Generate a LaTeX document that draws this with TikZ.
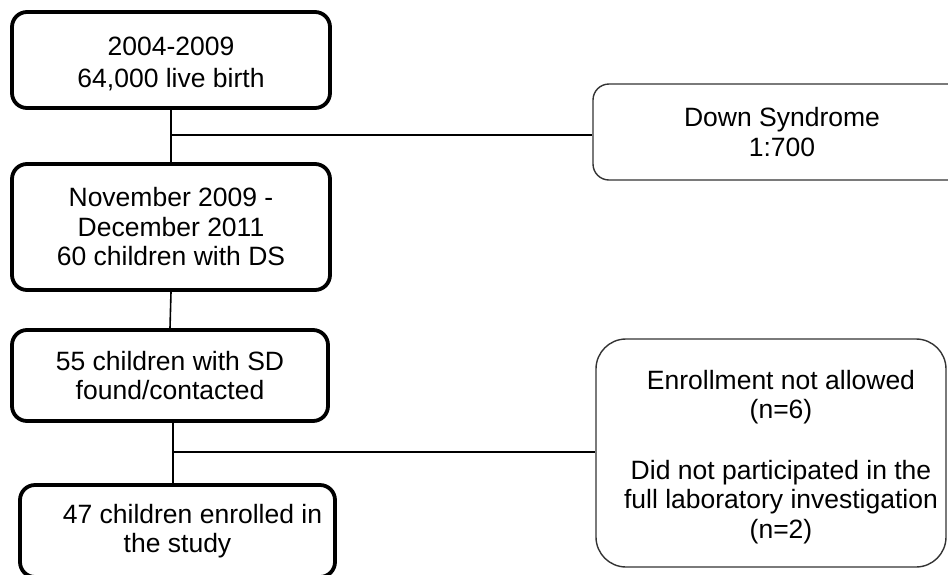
\documentclass[tikz,border=0pt]{standalone}
\usepackage{fontspec}
\setmainfont{Liberation Sans}
\begin{document}
\begin{tikzpicture}[x=1pt,y=-1pt,
  thickbox/.style={draw=black,line width=3.8pt,rounded corners=15pt,inner sep=0pt,align=center,font=\fontsize{26.5}{29.5}\selectfont},
  thinbox/.style={draw=black!80,line width=1.4pt,inner sep=0pt,align=center,font=\fontsize{26.5}{29.5}\selectfont},
  conn/.style={draw=black,line width=1.6pt}]
\useasboundingbox (0,0) rectangle (948,574);
\clip (0,0) rectangle (948,574);
\node[thickbox,minimum width=318pt,minimum height=96pt] (b1) at (171,60) {};
\node[inner sep=0pt,align=center,font=\fontsize{26.5}{29.5}\selectfont] (b1t) at (171,64) {2004-2009\\[2pt]64,000 live birth};
\node[thickbox,minimum width=318pt,minimum height=126pt] (b2) at (171,227) {November 2009 -\\December 2011\\60 children with DS};
\node[thickbox,minimum width=316pt,minimum height=91pt] (b3) at (170,375.5) {55 children with SD\\found/contacted};
\node[thickbox,minimum width=315pt,minimum height=92pt] (b4) at (177.5,531) {\hspace*{30pt}47 children enrolled in\\the study};
\node[thinbox,rounded corners=16pt,minimum width=378pt,minimum height=96pt] (ds) at (782,132) {Down Syndrome\\1:700};
\node[thinbox,rounded corners=30pt,minimum width=350pt,minimum height=228pt] (enr) at (771,453) {};
\node[inner sep=0pt,align=center,font=\fontsize{26.5}{29.5}\selectfont] (enrt) at (781,457) {Enrollment not allowed\\(n=6)\\[31pt]Did not participated in the\\full laboratory investigation\\(n=2)};
\coordinate (j1) at (b1.south |- 0,135);
\coordinate (j2) at (b3.south |- 0,452);
\draw[conn] (b1.south) -- (b2.north);
\draw[conn] (b2.south) -- (b3.north);
\draw[conn] ([xshift=3pt]b3.south) -- ([xshift=3pt]b3.south |- b4.north);
\draw[conn] (j1) -- (j1 -| ds.west);
\draw[conn] ([xshift=3pt]j2) -- (j2 -| enr.west);
\end{tikzpicture}
\end{document}
